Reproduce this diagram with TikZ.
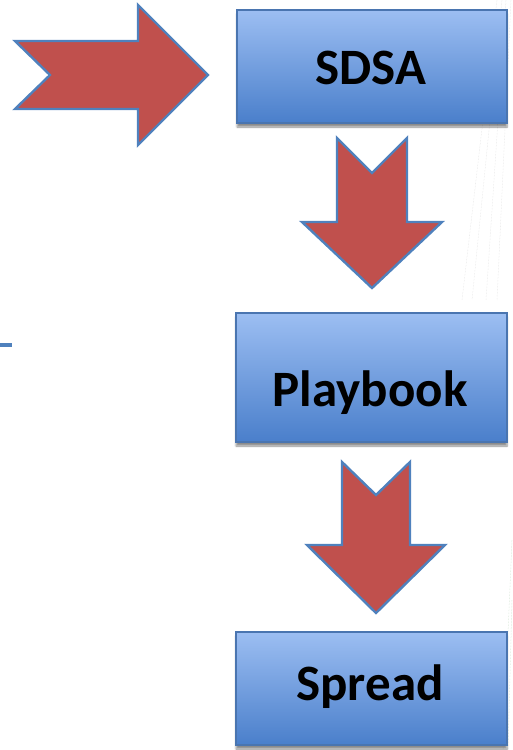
\documentclass[tikz,border=0pt]{standalone}
\usepackage{fontspec}
\setmainfont{Carlito}
\usetikzlibrary{shadows.blur}
\definecolor{arrowred}{HTML}{C0504D}
\definecolor{arrowblue}{HTML}{4F81BD}
\definecolor{boxtop}{HTML}{9CBEF2}
\definecolor{boxbottom}{HTML}{4A7FCB}
\definecolor{boxline}{HTML}{4A75B0}
\tikzset{
  flowbox/.style={draw=boxline, line width=1.2pt, top color=boxtop, bottom color=boxbottom,
    blur shadow={shadow xshift=0pt, shadow yshift=-4pt, shadow blur steps=6, shadow opacity=45}},
  blockarrow/.style={fill=arrowred, draw=arrowblue, line width=2.4pt, line join=miter},
  boxlabel/.style={font=\bfseries\fontsize{51}{60}\selectfont, anchor=base, inner sep=0pt},
  bgline/.style={draw=black!12, line width=0.5pt, densely dotted}
}
\begin{document}
\begin{tikzpicture}[x=1pt, y=-1pt]
  \useasboundingbox (0,0) rectangle (512,750);
  % faint background strokes at the right edge
  \draw[bgline] (497,0) -- (462,300);
  \draw[bgline] (502,0) -- (472,300);
  \draw[bgline] (506,0) -- (486,300);
  \draw[bgline] (511,0) -- (497,300);
  \draw[bgline, draw=green!40!black!20] (512,540) -- (503,750);
  \draw[bgline, draw=green!40!black!20] (512,600) -- (508,750);

  % short stub at the left edge
  \coordinate (stubA) at (0,345);
  \coordinate (stubB) at (12,345);
  \draw[arrowblue, line width=4pt] (stubA) -- (stubB);

  % process boxes
  \path[flowbox] (237,10) rectangle (507,123);
  \path[flowbox] (236,313) rectangle (507,442);
  \path[flowbox] (236,632) rectangle (507,745);
  \node[boxlabel] (sdsa) at (371,84) {SDSA};
  \node[boxlabel] (playbook) at (370,406) {Playbook};
  \node[boxlabel] (spread) at (370,700) {Spread};

  % incoming block arrow
  \draw[blockarrow] (15,41) -- (138,41) -- (138,5) -- (208,75) -- (138,145)
    -- (138,109) -- (15,109) -- (50,75) -- cycle;

  % block arrows between the boxes
  \draw[blockarrow] (337,138) -- (372,173) -- (407,138) -- (407,222) -- (442,222)
    -- (372,288) -- (302,222) -- (337,222) -- cycle;
  \draw[blockarrow] (342,462) -- (376,495) -- (410,462) -- (410,545) -- (445,545)
    -- (376,613) -- (307,545) -- (342,545) -- cycle;
\end{tikzpicture}
\end{document}
